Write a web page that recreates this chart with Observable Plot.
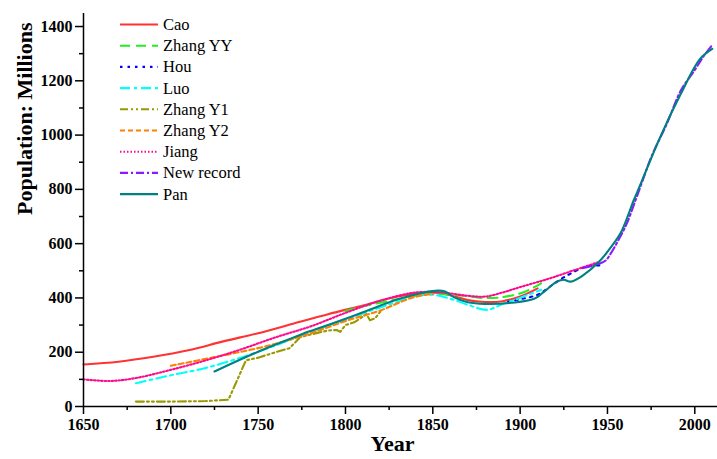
<!DOCTYPE html>
<html>
<head>
<meta charset="utf-8">
<script src="https://cdn.jsdelivr.net/npm/d3@7"></script>
<script src="https://cdn.jsdelivr.net/npm/@observablehq/plot@0.6"></script>
<style>
  html, body { margin: 0; padding: 0; background: #fff; }
  #wrap { position: relative; width: 717px; height: 459px; }
  #wrap svg text { font-family: 'Liberation Serif','Times New Roman',serif; }
  #legend { position: absolute; left: 0; top: 0; pointer-events: none; }
</style>
</head>
<body>
<div id="wrap"></div>
<script>
// ---- data (year, population in millions) ----
const cao = [[1650,155],[1670,165],[1690,183],[1710,207],[1730,240],[1750,270],[1770,305],[1790,340],[1810,372],[1830,405],[1850,420],[1860,410],[1870,392],[1880,385],[1890,388],[1900,405],[1910,435]];
const zhangYY = [[1800,352],[1812,372],[1826,390],[1840,408],[1850,415],[1866,409],[1879,400],[1890,403],[1902,421],[1912,454]];
const hou = [[1893,385],[1900,395],[1910,412],[1920,455],[1927,483],[1938,516],[1946,520]];
const luo = [[1680,86],[1700,115],[1720,142],[1740,180],[1760,225],[1780,275],[1800,320],[1820,365],[1840,405],[1850,412],[1860,397],[1870,375],[1881,356],[1890,378],[1900,400],[1912,430]];
const zhangY1 = [[1680,18],[1700,18],[1720,20],[1733,25],[1743,170],[1750,180],[1760,200],[1768,215],[1774,255],[1780,265],[1790,280],[1795,282],[1797,275],[1800,300],[1805,310],[1812,340],[1814,318],[1817,325],[1820,350]];
const zhangY2 = [[1700,150],[1725,182],[1750,215],[1765,240],[1782,274],[1801,317],[1820,354],[1839,403],[1850,415]];
const jiang = [[1650,100],[1665,94],[1680,105],[1700,135],[1720,170],[1740,210],[1760,255],[1780,295],[1800,345],[1820,390],[1840,420],[1855,420],[1870,408],[1880,405],[1890,420],[1900,440],[1915,468],[1930,500],[1945,532]];
const newRecord = [[1936,510],[1945,525],[1949,538],[1952,565],[1956,610],[1961,673],[1966,759],[1970,830],[1975,918],[1984,1042],[1992,1164],[2000,1240],[2005,1290],[2010,1332]];
const pan = [[1725,129],[1745,188],[1767,246],[1776,269],[1790,300],[1810,347],[1830,395],[1845,420],[1853,427],[1857,424],[1862,403],[1870,384],[1880,378],[1895,382],[1908,397],[1915,430],[1921,460],[1925,467],[1929,460],[1936,483],[1945,532],[1952,587],[1958,645],[1965,759],[1969,820],[1980,990],[1992,1152],[2003,1281],[2010,1318]];

const seriesNames = ["Cao","Zhang YY","Hou","Luo","Zhang Y1","Zhang Y2","Jiang","New record","Pan"];
const seriesData = [cao, zhangYY, hou, luo, zhangY1, zhangY2, jiang, newRecord, pan];
const seriesColors = ["#ff3333","#22ee22","#0000ff","#00ffff","#999900","#ff8000","#ff0a8c","#8c1aff","#008080"];
const seriesDash = [null,"10,6","2.5,5","10,4,3,4","8,3,2,3,2,3","5,3","1.5,2","8,3,2,3",null];
const seriesCurve = ["catmull-rom","catmull-rom","catmull-rom","catmull-rom","linear","catmull-rom","catmull-rom","catmull-rom","catmull-rom"];

const xMajor = [1650,1700,1750,1800,1850,1900,1950,2000];
const xMinor = [1675,1725,1775,1825,1875,1925,1975];
const yMajor = [0,200,400,600,800,1000,1200,1400];
const yMinor = [100,300,500,700,900,1100,1300];

const font = "Liberation Serif";

const lineMarks = seriesData.map((d, i) => Plot.line(d, {
  x: p => p[0], y: p => p[1],
  stroke: seriesColors[i], strokeWidth: 2.1,
  strokeDasharray: seriesDash[i] || undefined,
  curve: seriesCurve[i]
}));

const chart = Plot.plot({
  width: 717, height: 459,
  marginLeft: 83, marginRight: 0, marginTop: 13, marginBottom: 53,
  style: {fontFamily: font, fontSize: "16px", fontWeight: "bold", color: "#000", background: "#fff"},
  x: {domain: [1650, 2013]},
  y: {domain: [0, 1448]},
  marks: [
    ...lineMarks,
    Plot.axisX({ticks: xMajor, tickSize: 8, tickPadding: 4, tickFormat: d => String(d), label: null, strokeWidth: 1.5, fontFamily: font, fontWeight: "bold", fontSize: 16}),
    Plot.axisX({ticks: xMinor, tickSize: 4, text: null, label: null, strokeWidth: 1.5}),
    Plot.axisY({ticks: yMajor, tickSize: 8, tickPadding: 3, tickFormat: d => String(d), label: null, strokeWidth: 1.5, fontFamily: font, fontWeight: "bold", fontSize: 16}),
    Plot.axisY({ticks: yMinor, tickSize: 4, text: null, label: null, strokeWidth: 1.5}),
    Plot.ruleX([1650], {strokeWidth: 1.5}),
    Plot.ruleY([0], {strokeWidth: 1.5}),
    Plot.text(["Population: Millions"], {frameAnchor: "left", rotate: -90, dx: -59, dy: 5, fontSize: 22, fontWeight: "bold", fontFamily: font, fill: "#000"}),
    Plot.text(["Year"], {frameAnchor: "bottom", dy: 44, dx: -8, fontSize: 22, fontWeight: "bold", fontFamily: font, fill: "#000"})
  ]
});

const wrap = document.getElementById("wrap");
wrap.appendChild(chart);

// legend overlay
const leg = d3.select(wrap).append("svg")
  .attr("id", "legend").attr("width", 717).attr("height", 459);
const rows = leg.selectAll("g").data(seriesNames).join("g")
  .attr("transform", (d, i) => `translate(0,${24.5 + i * 21.2})`);
rows.append("line")
  .attr("x1", 120).attr("x2", 158).attr("y1", 0).attr("y2", 0)
  .attr("stroke", (d, i) => seriesColors[i])
  .attr("stroke-width", 2.1)
  .attr("stroke-dasharray", (d, i) => seriesDash[i]);
rows.append("text")
  .attr("x", 163).attr("y", 5.5)
  .attr("font-family", font).attr("font-size", 16.5)
  .attr("fill", "#000")
  .text(d => d);
</script>
</body>
</html>
